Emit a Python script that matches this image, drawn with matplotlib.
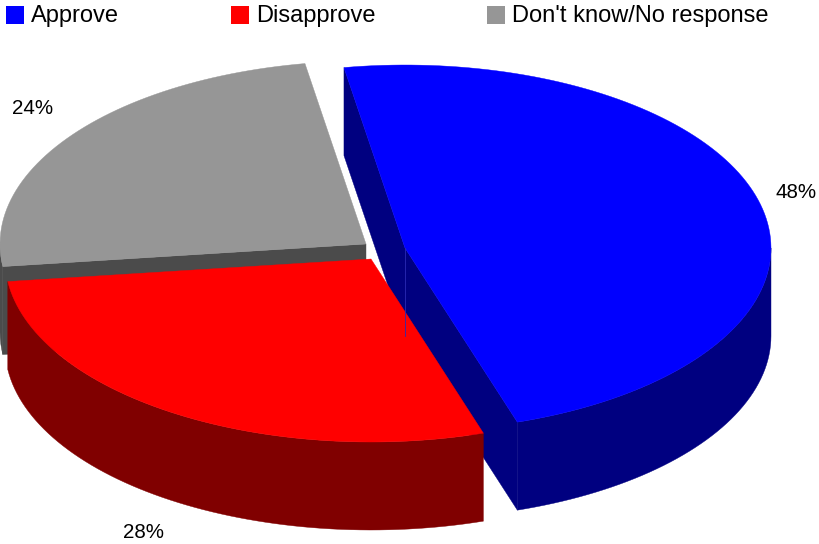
#!/usr/bin/env python3
"""Exploded 3-D style pie of approval shares, drawn as flat polygons."""

import matplotlib

matplotlib.use("Agg")
import matplotlib.pyplot as plt
import numpy as np
from matplotlib.patches import Polygon, Rectangle

plt.rcParams["font.family"] = ["Liberation Sans", "DejaVu Sans"]

# ── Data ───────────────────────────────────────────────────────────────────────

CATEGORIES = ["Approve", "Disapprove", "Don't know/No response"]
SHARES = [47.7, 28.0, 24.3]  # slightly finer than the printed labels
SHARE_LABELS = ["48%", "28%", "24%"]

# ── Style ──────────────────────────────────────────────────────────────────────

TOP_COLORS = ["#0000ff", "#ff0000", "#969696"]
SIDE_COLORS = ["#000080", "#800000", "#4b4b4b"]
APEXES = [(405, 248), (371, 259), (366, 244)]  # exploded slice centres, px
LABEL_POS = [(796, 193), (143, 532), (33, 109)]
LEGEND_X = [6, 231, 487]

RX, RY = 366, 183
DEPTH = 88
START_DEG = -9.6


def rim_point(apex, deg):
    """Point on the ellipse, angle clockwise from the top of the pie."""
    t = np.radians(deg)
    return apex[0] + RX * np.sin(t), apex[1] - RY * np.cos(t)


def arc(apex, d0, d1):
    n = max(2, int(abs(d1 - d0) / 1.5) + 1)
    return [rim_point(apex, d) for d in np.linspace(d0, d1, n)]


def drop(points):
    return [(x, y + DEPTH) for x, y in points]


def draw_slice(ax, i, d0, d1):
    apex = APEXES[i]
    top, side = TOP_COLORS[i], SIDE_COLORS[i]
    p0, p1 = rim_point(apex, d0), rim_point(apex, d1)

    # flat walls that face the viewer
    if d0 < 0:  # blue: leading wall, goes up and back to the left
        ax.add_patch(Polygon([p0, apex] + drop([apex, p0]), fc=side, ec=side, lw=0.3))
    if d1 < 180 or d0 > 180:
        wall_end = p1 if d1 < 180 else p0
        ax.add_patch(Polygon([apex, wall_end] + drop([wall_end, apex]), fc=side, ec=side, lw=0.3))

    # outer rim, only the front half (90..270 deg) can be seen
    lo, hi = max(d0, 90), min(d1, 270)
    if hi > lo:
        edge = arc(apex, lo, hi)
        ax.add_patch(Polygon(edge + drop(edge)[::-1], fc=side, ec=side, lw=0.3))

    ax.add_patch(Polygon([apex] + arc(apex, d0, d1), fc=top, ec=top, lw=0.3))

    # the faint seam between the two blue walls
    if d0 < 0:
        ax.plot([apex[0], apex[0]], [apex[1], apex[1] + DEPTH], color="#2a2ab4", lw=0.6)


def main():
    fig = plt.figure(figsize=(8.19, 5.44), dpi=100)
    ax = fig.add_axes([0, 0, 1, 1])
    ax.set_xlim(0, 819)
    ax.set_ylim(544, 0)
    ax.axis("off")

    edges = START_DEG + np.concatenate([[0], np.cumsum(SHARES)]) * 3.6

    # back to front: grey, blue, red
    for i in [2, 0, 1]:
        draw_slice(ax, i, edges[i], edges[i + 1])

    for i, label in enumerate(SHARE_LABELS):
        ax.text(*LABEL_POS[i], label, fontsize=14.8, ha="center", va="center", color="black")

    for i, name in enumerate(CATEGORIES):
        ax.add_patch(Rectangle((LEGEND_X[i], 6), 18, 18, fc=TOP_COLORS[i], ec="none"))
        ax.text(LEGEND_X[i] + 25, 22, name, fontsize=17, ha="left", va="baseline", color="black")

    fig.savefig("out.png", dpi=100)
    plt.close(fig)


if __name__ == "__main__":
    main()
